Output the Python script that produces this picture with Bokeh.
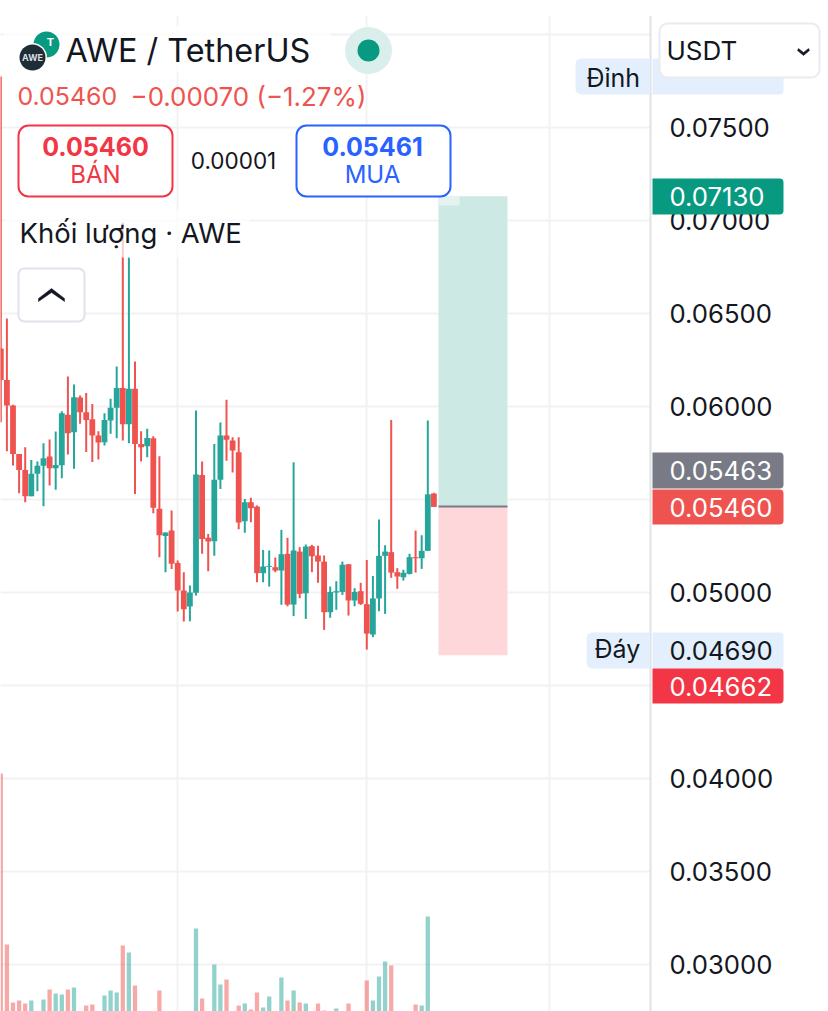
from bokeh.plotting import figure
from bokeh.embed import file_html
from bokeh.resources import INLINE
from bokeh.models import (BoxAnnotation, Label, LinearAxis, Range1d, FixedTicker, PolyAnnotation, ColumnDataSource, NumeralTickFormatter, Grid)

opens = [.06312,.06143,.06005,.05745,.05659,.05518,.05638,.05681,.05731,.05668,.05684,.05955,.05862,.06048,.05969,.05932,.05844,.05808,.05925,.05993,.06100,.05905,.06095,.05799,.05786,.05829,.05450,.05304,.05333,.05159,.05011,.04925,.04998,.05632,.05295,.05276,.05606,.05844,.05817,.05754,.05383,.05485,.05462,.05104,.05138,.05136,.05118,.05208,.04935,.05220,.04996,.05249,.05199,.05166,.04894,.05000,.05003,.05152,.04957,.05007,.04937,.04774,.04968,.05197,.05217,.05109,.05082,.05100,.05190,.05184,.05224,.05532]
closes = [.06143,.06005,.05745,.05659,.05518,.05638,.05681,.05722,.05668,.05686,.05964,.05856,.06050,.05969,.05928,.05844,.05806,.05928,.05993,.06100,.05905,.06095,.05799,.05781,.05831,.05455,.05308,.05322,.05154,.05011,.04910,.05000,.05634,.05288,.05274,.05606,.05844,.05821,.05763,.05376,.05485,.05453,.05104,.05140,.05143,.05118,.05206,.04935,.05226,.04993,.05247,.05195,.05166,.04894,.05003,.05007,.05149,.04957,.05003,.04939,.04779,.04968,.05197,.05220,.05107,.05086,.05106,.05190,.05184,.05224,.05528,.05460]
highs = [.07774,.06473,.06010,.05745,.05781,.05713,.05704,.05803,.05822,.05865,.05975,.06161,.06118,.06059,.06073,.06014,.05867,.05964,.06041,.06215,.06989,.06801,.06242,.05867,.05880,.05840,.05733,.05322,.05441,.05172,.05109,.05037,.05978,.05704,.05315,.05799,.05914,.06036,.05835,.05835,.05503,.05509,.05468,.05229,.05226,.05188,.05337,.05294,.05700,.05244,.05258,.05256,.05252,.05199,.05032,.05061,.05166,.05152,.05023,.05052,.05175,.05089,.05392,.05254,.05928,.05131,.05122,.05208,.05333,.05308,.05925,.05536]
lows = [.05915,.05760,.05683,.05534,.05485,.05518,.05545,.05464,.05575,.05553,.05614,.05742,.05665,.05907,.05756,.05701,.05715,.05790,.05853,.05829,.05817,.05803,.05530,.05704,.05727,.05426,.05190,.05109,.05127,.04898,.04844,.04846,.04984,.05208,.05114,.05197,.05557,.05709,.05645,.05340,.05321,.05378,.05055,.05055,.05032,.05109,.04934,.04926,.04873,.04969,.04858,.05109,.05052,.04799,.04864,.04907,.04987,.04876,.04926,.04933,.04693,.04760,.04899,.04885,.05079,.05020,.05064,.05097,.05107,.05127,.05224,.05460]
volumes = [238,67,9,11,8,11,0,12,22,18,17,22,24,0,6,7,0,16,21,19,66,59,26,0,0,0,21,0,0,0,0,0,83,13,0,47,27,32,0,6,8,2,19,4,15,0,34,11,21,9,8,0,8,1,0,3,0,8,0,0,31,11,35,50,46,0,0,0,7,6,95,0]
price_ticks = [0.03,0.035,0.04,0.045,0.05,0.055,0.06,0.065,0.07,0.075]
grid_ticks = [0.03,0.035,0.04,0.045,0.05,0.055,0.06,0.065,0.07,0.075,0.08]
time_grid = [29,60,90]
entry_price, target_price, stop_price = 0.05463, 0.07130, 0.04662

FONT = "Inter"
GREEN, RED = "#26a69a", "#ef5350"
TOP_PX, BOTTOM_PX, FRAME_W, AXIS_X = 15, 1011, 828, 650
PX_PER_BAR = 6.1

def X(px):
    return (px - 0.3) / PX_PER_BAR

def Y(py):
    return 0.075 - (py - 127) * 0.005 / 93

p = figure(width=828, height=BOTTOM_PX - TOP_PX, output_backend="svg", toolbar_location=None,
           x_range=Range1d(X(0), X(FRAME_W)), y_range=Range1d(Y(BOTTOM_PX), Y(TOP_PX)),
           x_axis_location=None, y_axis_location=None, min_border_left=0, min_border_top=0,
           min_border_bottom=0, min_border_right=0, outline_line_color=None,
           margin=(TOP_PX, 0, 0, 0))
p.extra_y_ranges = {"vol": Range1d(0, BOTTOM_PX - TOP_PX)}
p.grid.visible = False

axis = LinearAxis(ticker=FixedTicker(ticks=price_ticks), major_tick_line_color=None, minor_tick_line_color=None,
                  axis_line_color="#e0e2e6", axis_line_width=2, major_label_standoff=13,
                  major_label_text_font=FONT, major_label_text_font_size="25.7px",
                  major_label_text_color="#131722", formatter=NumeralTickFormatter(format="0.00000"),
                  fixed_location=X(AXIS_X))
p.add_layout(axis, "right")

p.add_layout(Grid(dimension=1, ticker=FixedTicker(ticks=grid_ticks), grid_line_color="#f1f2f3", grid_line_width=2))
p.add_layout(Grid(dimension=0, ticker=FixedTicker(ticks=time_grid), grid_line_color="#f1f2f3", grid_line_width=2))

idx = list(range(len(opens)))
colors = [GREEN if c >= o else RED for o, c in zip(opens, closes)]
src = ColumnDataSource(dict(x=idx, o=opens, c=closes, h=highs, l=lows, v=volumes, color=colors))

# the price scale column hides the grid behind it
p.quad(left=X(AXIS_X), right=X(FRAME_W), top=Y(TOP_PX), bottom=Y(BOTTOM_PX), fill_color="#ffffff", line_color=None)

# position tool
p.quad(left=X(438), right=X(507), top=target_price, bottom=entry_price, fill_color="#cce9e4", line_color=None)
p.quad(left=X(438), right=X(507), top=entry_price, bottom=stop_price, fill_color="#fdd7da", line_color=None)
p.quad(left=X(438), right=X(459), top=target_price, bottom=Y(205), fill_color="#e4f3f0", line_color=None)
p.segment(x0=[X(438)], x1=[X(507)], y0=[entry_price], y1=[entry_price], line_color="#787b86", line_width=2)

p.vbar(x="x", top="v", bottom=0, width=0.7, fill_color="color", line_color=None, fill_alpha=0.5, y_range_name="vol", source=src)
p.segment(x0="x", x1="x", y0="l", y1="h", line_color="color", line_width=2, source=src)
p.vbar(x="x", top="o", bottom="c", width=0.95, fill_color="color", line_color=None, source=src)


def box(l, r, t, b, fill, alpha=1.0, line=None, lw=0, radius=0):
    p.add_layout(BoxAnnotation(left=l, right=r, top=t - TOP_PX, bottom=b - TOP_PX,
                               left_units="canvas", right_units="canvas", top_units="canvas", bottom_units="canvas",
                               fill_color=fill, fill_alpha=alpha,
                               line_color=line, line_width=lw, line_alpha=1.0 if line else 0,
                               border_radius=radius, level="annotation"))


def text(s, x, y, size, color="#131722", align="left", style="normal", level="annotation"):
    p.add_layout(Label(x=x, y=y - TOP_PX, x_units="canvas", y_units="canvas", text=s, text_font=FONT,
                       text_font_size=f"{size}px", text_color=color,
                       text_align=align, text_baseline="middle", text_font_style=style, level=level))


def chevron(pts):
    p.add_layout(PolyAnnotation(xs=[a for a, _ in pts], ys=[b - TOP_PX for _, b in pts], xs_units="canvas", ys_units="canvas",
                                fill_color="#131722", fill_alpha=1, line_color="#131722", line_alpha=1, line_width=0.5,
                                level="overlay"))

# header veils
box(3, 330, 25, 72, "#ffffff", 0.75)
box(3, 250, 209, 257, "#ffffff", 0.7)

# logo and status dot
p.scatter([X(46)], [Y(44)], size=26, fill_color="#089981", line_color=None, level="overlay")
p.scatter([X(32)], [Y(57)], size=29, fill_color="#ffffff", line_color=None, level="overlay")
p.scatter([X(32)], [Y(57)], size=26, fill_color="#1f2d36", line_color=None, level="overlay")
text("AWE", 32, 57, 9, "#d9dee2", "center", "bold", "overlay")
text("T", 50, 41, 11, "#ffffff", "center", "bold", "overlay")
text("AWE / TetherUS", 65, 50, 32.4)
p.scatter([X(368)], [Y(50)], size=47, fill_color="#daefec", line_color=None, level="overlay")
p.scatter([X(368)], [Y(50)], size=22, fill_color="#089981", line_color=None, level="overlay")
text("0.05460", 17, 95.5, 24.9, RED)
text("\u22120.00070 (\u22121.27%)", 130, 95.5, 25.9, RED)

# buy and sell boxes
box(18, 172, 125, 196, "#ffffff", 1, "#f23645", 2, 10)
text("0.05460", 95, 146, 25, "#f23645", "center", "bold")
text("B\u00c1N", 95, 174, 24, "#f23645", "center")
text("0.00001", 233, 160, 22.5, "#131722", "center")
box(296, 450, 125, 196, "#ffffff", 1, "#2962ff", 2, 10)
text("0.05461", 372, 146, 25, "#2962ff", "center", "bold")
text("MUA", 372, 174, 24, "#2962ff", "center")

text("Kh\u1ed1i l\u01b0\u1ee3ng \u00b7 AWE", 19, 232.5, 27.5)
box(18, 84, 268, 321, "#ffffff", 1, "#e0e3eb", 2, 6)
chevron([(38, 298), (51, 288), (64, 298), (64, 301), (51, 292), (38, 301)])

# price tags
TAG_R = (0, 4, 4, 0)
box(575, 649, 58, 94, "#e3effc", radius=(6, 0, 0, 6))
box(652, 783, 58, 94, "#e3effc", radius=TAG_R)
text("\u0110\u1ec9nh", 586, 77, 25)
box(659, 819, 23, 77, "#ffffff", 1, "#e9ebee", 2, 8)
text("USDT", 666, 50, 26)
chevron([(798, 48), (803, 52), (808, 48), (809, 50), (803, 55), (797, 50)])

box(652, 783, 178, 214, "#089981", radius=TAG_R)
text("0.07130", 669, 196, 25.7, "#ffffff")
box(652, 783, 452, 488, "#787b86", radius=TAG_R)
text("0.05463", 669, 470, 25.7, "#ffffff")
box(652, 783, 489, 524, RED, radius=TAG_R)
text("0.05460", 669, 507, 25.7, "#ffffff")
box(586, 649, 632, 668, "#e3effc", radius=(6, 0, 0, 6))
box(652, 783, 632, 668, "#e3effc", radius=TAG_R)
text("\u0110\u00e1y", 594, 648, 25)
text("0.04690", 669, 650, 25.7)
box(652, 783, 668, 703, "#f23645", radius=TAG_R)
text("0.04662", 669, 686, 25.7, "#ffffff")

open("out.html", "w").write(file_html(p, INLINE))
